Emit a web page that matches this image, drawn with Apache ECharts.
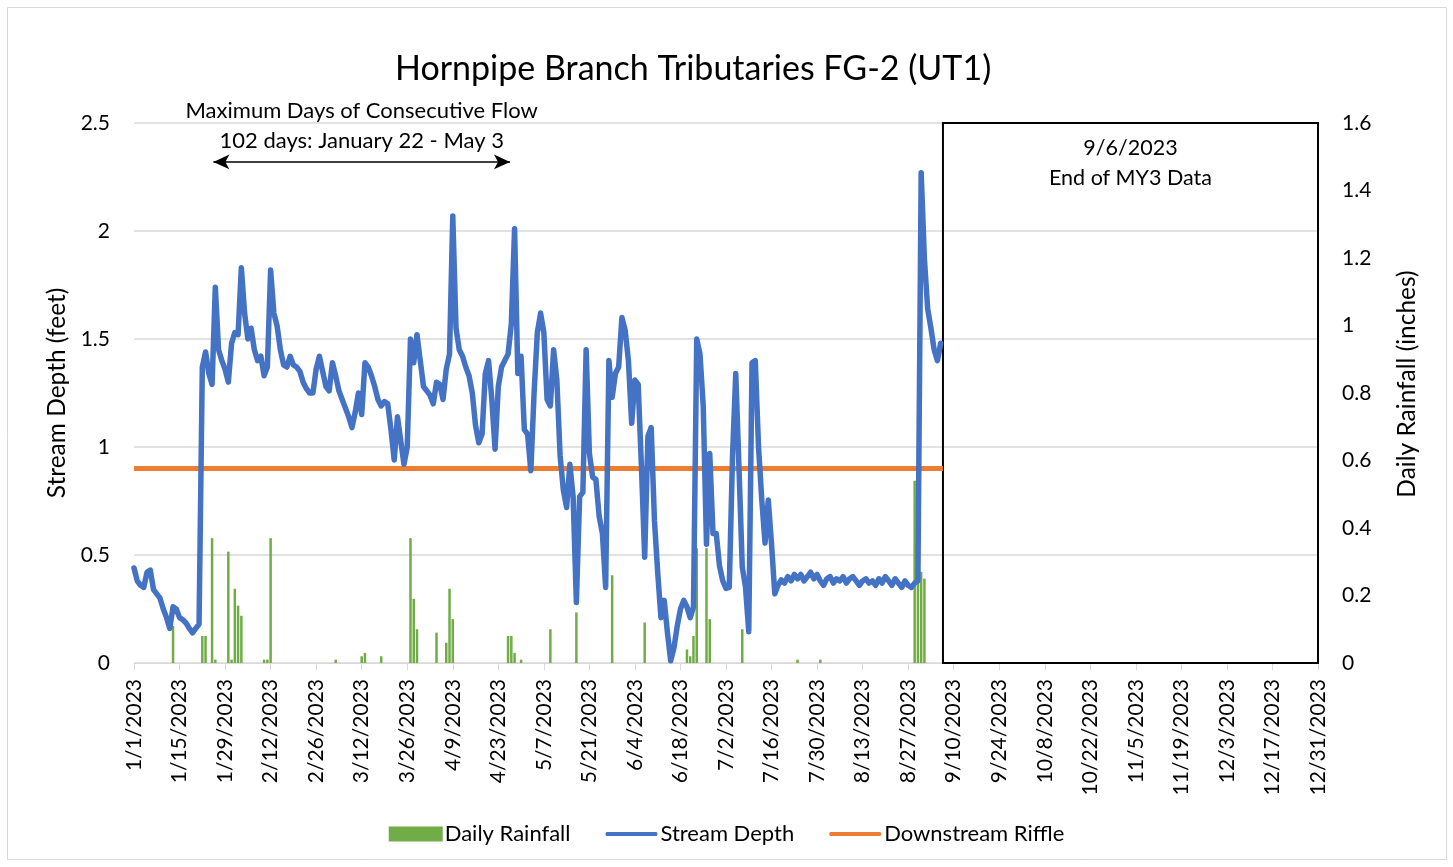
<!DOCTYPE html>
<html>
<head>
<meta charset="utf-8">
<script src="https://cdn.jsdelivr.net/npm/echarts@6/dist/echarts.min.js"></script>
<style>
  html, body { margin: 0; padding: 0; background: #fff; }
  #chart { width: 1453px; height: 867px; }
</style>
</head>
<body>
<div id="chart"></div>
<script>
// day index 0 = 1/1/2023
const startYear = 2023

// stream depth (feet), one value per day from 1/1 to 9/6
const streamDepth = [
  0.44, 0.38, 0.36, 0.35, 0.42, 0.43, 0.34, 0.32, 0.30, 0.25,
  0.21, 0.16, 0.26, 0.25, 0.21, 0.20, 0.185, 0.16, 0.14, 0.16,
  0.18, 1.37, 1.44, 1.34, 1.29, 1.74, 1.45, 1.40, 1.36, 1.30,
  1.48, 1.53, 1.52, 1.83, 1.62, 1.50, 1.55, 1.45, 1.40, 1.42,
  1.33, 1.37, 1.82, 1.62, 1.56, 1.45, 1.38, 1.37, 1.42, 1.38,
  1.37, 1.35, 1.30, 1.27, 1.25, 1.25, 1.36, 1.42, 1.35, 1.28,
  1.26, 1.39, 1.33, 1.26, 1.22, 1.18, 1.14, 1.09, 1.16, 1.25,
  1.15, 1.39, 1.37, 1.33, 1.28, 1.22, 1.19, 1.21, 1.20, 1.08,
  0.94, 1.14, 1.03, 0.92, 1.00, 1.50, 1.39, 1.52, 1.40, 1.28,
  1.26, 1.24, 1.20, 1.30, 1.29, 1.22, 1.36, 1.43, 2.07, 1.55,
  1.45, 1.42, 1.37, 1.33, 1.25, 1.10, 1.02, 1.06, 1.34, 1.40,
  1.22, 0.99, 1.28, 1.37, 1.40, 1.43, 1.57, 2.01, 1.34, 1.42,
  1.08, 1.06, 0.89, 1.25, 1.53, 1.62, 1.53, 1.22, 1.19, 1.45,
  1.31, 0.96, 0.80, 0.72, 0.92, 0.77, 0.28, 0.77, 0.79, 1.45,
  0.97, 0.86, 0.85, 0.68, 0.60, 0.35, 1.40, 1.23, 1.34, 1.37,
  1.60, 1.54, 1.40, 1.11, 1.31, 1.29, 0.91, 0.49, 1.05, 1.09,
  0.66, 0.42, 0.21, 0.29, 0.14, 0.01, 0.07, 0.17, 0.25, 0.29,
  0.26, 0.21, 0.26, 1.50, 1.43, 1.19, 0.55, 0.97, 0.60, 0.60,
  0.45, 0.38, 0.345, 0.35, 0.955, 1.34, 0.90, 0.445, 0.35, 0.145,
  1.39, 1.40, 1.00, 0.755, 0.555, 0.755, 0.55, 0.32, 0.36, 0.385,
  0.37, 0.40, 0.38, 0.41, 0.39, 0.41, 0.38, 0.40, 0.42, 0.39,
  0.41, 0.38, 0.36, 0.39, 0.40, 0.37, 0.39, 0.38, 0.40, 0.37,
  0.39, 0.40, 0.38, 0.36, 0.38, 0.39, 0.37, 0.38, 0.36, 0.39,
  0.37, 0.40, 0.38, 0.36, 0.39, 0.37, 0.35, 0.38, 0.36, 0.35,
  0.37, 0.38, 2.27, 1.87, 1.64, 1.55, 1.45, 1.40, 1.48
]

// daily rainfall (inches): day index and amount
const rainDays = [12, 21, 22, 24, 25, 29, 30, 31, 32, 33, 40, 41, 42, 62, 70, 71, 76, 85, 86, 87,
  93, 96, 97, 98, 115, 116, 117, 119, 128, 136, 147, 157, 170, 171, 172, 173, 176, 177, 187,
  204, 211, 240, 241, 242, 243]
const rainValues = [0.11, 0.08, 0.08, 0.37, 0.01, 0.33, 0.01, 0.22, 0.17, 0.14, 0.01, 0.01, 0.37, 0.01, 0.02, 0.03, 0.02, 0.37, 0.19, 0.10,
  0.09, 0.06, 0.22, 0.13, 0.08, 0.08, 0.03, 0.01, 0.10, 0.15, 0.26, 0.12, 0.04, 0.02, 0.08, 0.34, 0.34, 0.13, 0.10,
  0.01, 0.01, 0.54, 0.30, 0.27, 0.25]

const riffleDepth = 0.9
const dataEndDay = 248.7      // 9/6/2023, end of MY3 data
const yearEndDay = 364        // 12/31/2023
const flowStartDay = 24.4     // arrow ends for the consecutive flow note
const flowEndDay = 115.6
const arrowLevel = 2.32

const FONT = "Lato, 'Open Sans', sans-serif"
// thin bar inside a 55x14 box, for the line legend icons
const LINE_ICON = "path://M0,0 M55,14 M2,5 L53,5 Q55,7 53,9 L2,9 Q0,7 2,5 Z"

const dayLabel = d => {
  const dt = new Date(startYear, 0, 1 + d)
  return `${dt.getMonth() + 1}/${dt.getDate()}/${dt.getFullYear()}`
}

const chart = echarts.init(document.getElementById("chart"), null, {renderer: "canvas"})

chart.setOption({
  animation: false,
  backgroundColor: "#fff",
  textStyle: {fontFamily: FONT, color: "#000"},
  title: {
    text: "Hornpipe Branch Tributaries FG-2 (UT1)",
    left: 390,
    top: 47,
    textStyle: {fontFamily: FONT, fontSize: 34, fontWeight: "normal", color: "#000"},
  },
  graphic: [
    {
      type: "rect",
      shape: {x: 7.5, y: 7.5, width: 1439, height: 852},
      style: {fill: "none", stroke: "#d9d9d9", lineWidth: 1},
      silent: true,
    },
  ],
  legend: {
    bottom: 17,
    left: "center",
    itemGap: 34,
    itemWidth: 54,
    itemHeight: 15,
    textStyle: {fontFamily: FONT, fontSize: 22, color: "#000", padding: [0, 0, 0, -3]},
    data: [
      {name: "Daily Rainfall", icon: "rect"},
      {name: "Stream Depth", icon: LINE_ICON},
      {name: "Downstream Riffle", icon: LINE_ICON},
    ],
  },
  grid: {left: 134, right: 135, top: 123, bottom: 204},
  xAxis: {
    type: "value",
    min: 0,
    max: yearEndDay,
    interval: 14,
    axisLine: {lineStyle: {color: "#d9d9d9", width: 1}},
    axisTick: {show: true, length: 7, lineStyle: {color: "#d9d9d9"}},
    splitLine: {show: false},
    axisLabel: {
      rotate: 90,
      margin: 16,
      fontSize: 21,
      color: "#000",
      fontFamily: FONT,
      formatter: v => dayLabel(v),
    },
  },
  yAxis: [
    {
      type: "value",
      min: 0,
      max: 2.5,
      interval: 0.5,
      name: "Stream Depth (feet)",
      nameLocation: "middle",
      nameRotate: 90,
      nameGap: 64,
      nameTextStyle: {fontFamily: FONT, fontSize: 24.5, color: "#000"},
      axisLine: {show: false},
      axisTick: {show: false},
      axisLabel: {fontSize: 21, color: "#000", margin: 24, fontFamily: FONT},
      splitLine: {lineStyle: {color: "#d9d9d9", width: 1.5}},
    },
    {
      type: "value",
      min: 0,
      max: 1.6,
      interval: 0.2,
      name: "Daily Rainfall (inches)",
      nameLocation: "middle",
      nameRotate: 90,
      nameGap: 77,
      nameTextStyle: {fontFamily: FONT, fontSize: 24.5, color: "#000", padding: [0, 0, 0, 18]},
      axisLine: {show: false},
      axisTick: {show: false},
      axisLabel: {fontSize: 21, color: "#000", margin: 24, align: "left", fontFamily: FONT},
      splitLine: {show: false},
    },
  ],
  series: [
    {
      name: "Daily Rainfall",
      type: "bar",
      yAxisIndex: 1,
      barWidth: 2.5,
      itemStyle: {color: "#70ad47"},
      data: rainDays.map((d, i) => [d, rainValues[i]]),
      z: 1,
    },
    {
      name: "Stream Depth",
      type: "line",
      yAxisIndex: 0,
      symbol: "none",
      lineStyle: {color: "#4472c4", width: 5.5, join: "round", cap: "round"},
      itemStyle: {color: "#4472c4"},
      data: streamDepth.map((v, i) => [i, v]),
      z: 3,
      markLine: {
        silent: true,
        symbol: ["arrow", "arrow"],
        symbolSize: [11, 16],
        lineStyle: {color: "#000", width: 1.5, type: "solid"},
        label: {
          show: true,
          position: "middle",
          distance: 6,
          fontFamily: FONT,
          fontSize: 22,
          lineHeight: 30,
          color: "#000",
          formatter: "Maximum Days of Consecutive Flow\n102 days: January 22 - May 3",
        },
        data: [[{coord: [flowStartDay, arrowLevel]}, {coord: [flowEndDay, arrowLevel]}]],
      },
    },
    {
      name: "Downstream Riffle",
      type: "line",
      yAxisIndex: 0,
      symbol: "none",
      lineStyle: {color: "#ed7d31", width: 5},
      itemStyle: {color: "#ed7d31"},
      data: [[0, riffleDepth], [dataEndDay, riffleDepth]],
      z: 2,
      markArea: {
        silent: true,
        itemStyle: {color: "rgba(0,0,0,0)", borderColor: "#000", borderWidth: 2},
        label: {
          show: true,
          position: "insideTop",
          distance: 11,
          fontFamily: FONT,
          fontSize: 21.5,
          lineHeight: 30,
          color: "#000",
          formatter: "9/6/2023\nEnd of MY3 Data",
        },
        data: [[{xAxis: dataEndDay, yAxis: 2.5}, {xAxis: yearEndDay, yAxis: 0}]],
      },
    },
  ],
})
</script>
</body>
</html>
